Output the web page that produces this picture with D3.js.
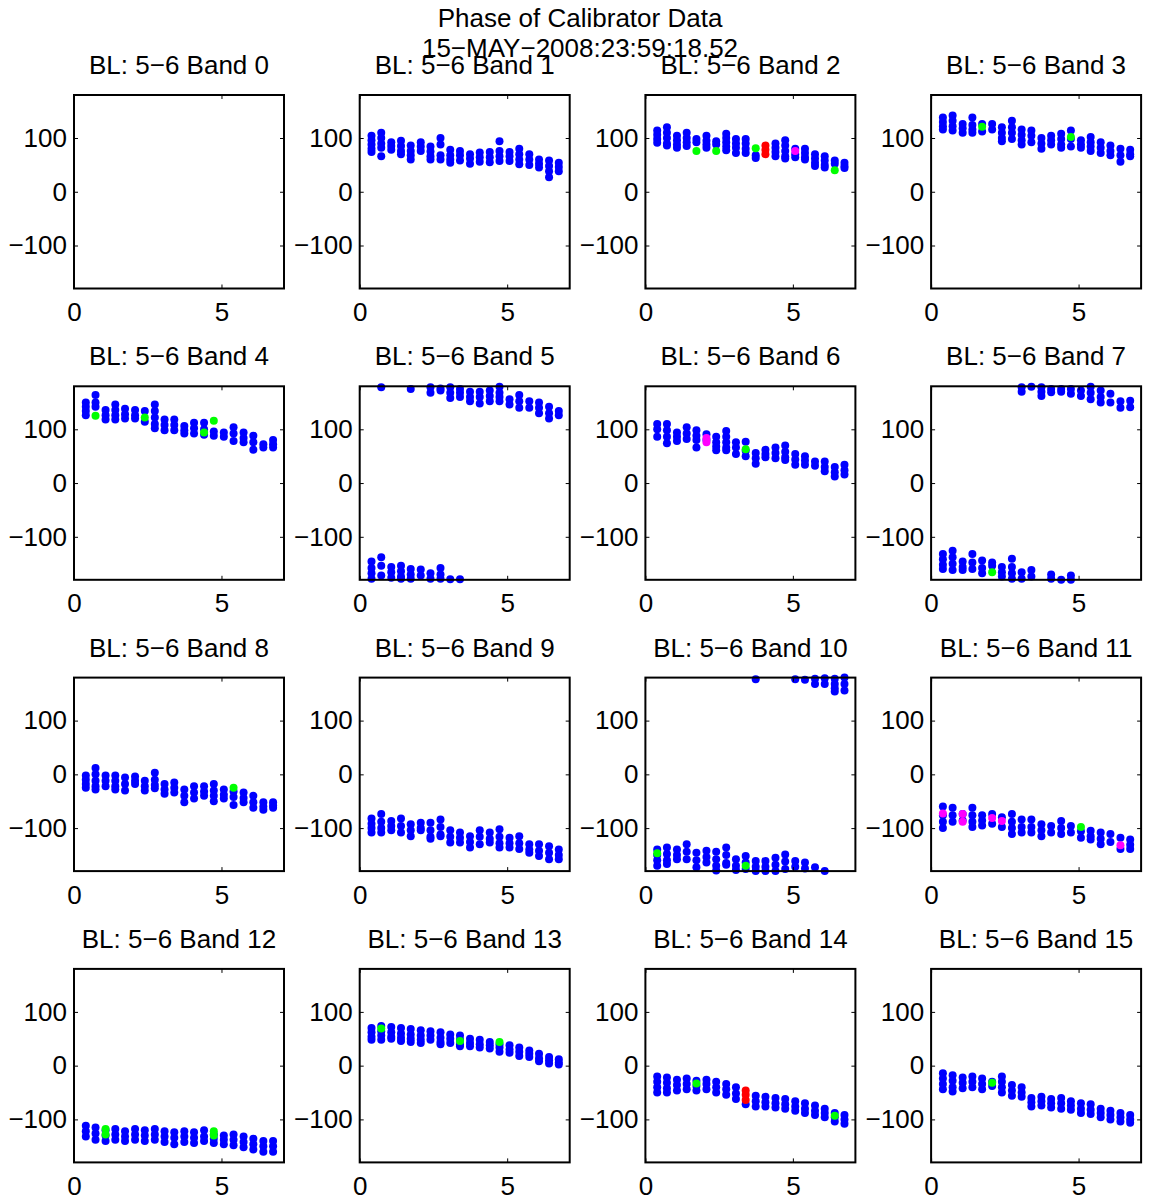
<!DOCTYPE html>
<html><head><meta charset="utf-8">
<script src="https://cdn.jsdelivr.net/npm/d3@7"></script>
<style>body{margin:0;background:#fff} text{font-family:"Liberation Sans",Arial,Helvetica,sans-serif;fill:#000}</style>
</head><body><script>
// ---------- data ----------
const titleLines = ["Phase of Calibrator Data", "15\u2212MAY\u22122008:23:59:18.52"];
const panelLabel = "BL: 5\u22126 Band ";
const xTicks = [0, 5];
const yTicks = [-100, 0, 100];
const xDomain = [0, 7.12];
const yDomain = [-180, 180];
const times = [0.40, 0.73, 1.07, 1.40, 1.73, 2.07, 2.40, 2.74, 3.07, 3.40, 3.74, 4.07, 4.41, 4.74, 5.08, 5.41, 5.75, 6.08, 6.42, 6.75];

const band0 = [];
const band1 = [[104,96,88,80,74],[110,100,90,82,66],[92,85,78],[95,85,76,70],[86,76,68,60],[92,84,76],[84,75,66,60],[100,88,68,60],[78,68,60,54],[76,68,58],[70,62,52],[73,64,56],[74,64,55],[94,76,66,57],[74,66,57],[80,70,60,51],[70,60,50],[60,52,45],[58,48,38,27],[54,46,38]];
const band2 = [[114,106,98,91],[120,110,100,90,86],[104,96,88,82],[110,100,92,85],[98,92],[104,95,88,82],[94,88],[108,100,92,84,77],[98,90,82,72],[98,90,80,72],[68,63],[],[90,82,74,66],[96,86,76,66,62],[80,70,64],[80,72,64,60],[70,62,54,48],[66,58,50,45],[58,52],[54,48,44]];
const band3 = [[138,130,122,116],[142,132,122,114],[126,118,110],[138,124,116,110],[126,112],[126,116],[120,110,100,94],[132,120,110,98],[116,106,96,88],[114,104,92],[100,90,80],[104,96,88],[108,98,88,82],[114,98,84],[96,88,82],[102,92,84,76],[92,82,72],[86,76,68],[80,68,56],[78,70,66]];
const band4 = [[150,142,134,126],[164,150,142],[136,126,118],[146,136,126,118],[138,128,120],[136,126,120],[134,114],[146,134,122,110,102],[118,108,98],[118,108,98],[106,98,92],[112,102,92],[112,100,90],[96,88],[94,86],[104,92,78],[94,84,76],[88,76,62],[72,66],[80,72,66]];
const band5 = [[-146,-158,-168,-178],[178,-138,-154,-172],[-156,-166,-176],[-154,-164,-174,-178],[175,-160,-170,-178],[-161,-172],[178,168,-168,-178],[176,172,-158,-170,-178],[178,168,158,-179],[175,168,160,-179],[170,160,152],[170,160,148],[172,162,152],[179,168,160,152],[156,146],[164,152,140],[152,140],[150,140,130],[142,130,120],[134,126]];
const band6 = [[110,100,86],[110,98,86,74],[94,86,78],[104,92,82],[98,88,80,66],[91,80],[86,76,68,61],[97,86,76,66,61],[76,66,54],[77,60,50],[56,46,36],[62,54,48],[66,56,46],[70,58,48,43],[54,44,34],[50,42,34],[40,32],[40,30,22],[30,20,12],[34,24,16]];
const band7 = [[-132,-142,-152,-160],[-126,-138,-150,-162],[-146,-156,-162],[-132,-148,-160],[-144,-158,-168],[-148,-154],[-156,-166,-174],[-141,-156,-168,-178],[178,170,-166,-178],[179,-162,-174],[178,170,162],[175,169,-170,-178],[175,170,-180],[175,166,-172,-180],[172,162],[179,168,156],[172,160,150],[166,150],[152,140],[153,141]];
const band8 = [[-2,-10,-18,-25],[12,0,-12,-22,-28],[-2,-12,-22],[-2,-12,-22,-28],[-6,-18,-30],[-4,-12,-18],[-12,-22,-30],[3,-10,-20,-26],[-18,-28,-36],[-15,-25,-34],[-28,-40,-52],[-22,-34,-45],[-22,-32,-40],[-18,-30,-40,-50],[-28,-38,-45],[-32,-42,-57],[-34,-44,-52],[-40,-52,-62],[-52,-60,-66],[-52,-58,-62]];
const band9 = [[-82,-92,-100,-108],[-74,-88,-100,-108],[-87,-96,-104],[-82,-96,-108],[-93,-104,-115],[-90,-100,-104],[-90,-104,-116,-120],[-84,-98,-112,-115],[-104,-116,-127],[-108,-118,-127],[-115,-126,-136],[-104,-116,-130],[-108,-120,-127],[-102,-116,-128,-136],[-118,-128,-136],[-115,-128,-139],[-130,-140,-146],[-130,-142,-152],[-134,-146,-158],[-140,-150,-158]];
const band10 = [[-140,-150,-160,-170],[-136,-148,-160,-167],[-140,-150,-158],[-130,-144,-158],[-146,-160,-173],[-142,-154,-164],[-144,-158,-170,-179],[-136,-150,-165,-168],[-158,-170,-178],[-152,-164,-176],[177,-161,-172,-180],[-161,-172,-180],[-155,-168,-180],[-149,-162,-176],[177,-161,-172],[176,-164,-175],[178,168,-173],[179,168,-180],[178,168,160,154],[180,168,156]];
const band11 = [[-60,-76,-88,-100],[-62,-76,-88],[-74,-86],[-62,-76,-88,-98],[-76,-86,-95],[-74,-92],[-80,-98],[-74,-88,-100,-111],[-84,-98,-108],[-84,-98,-108],[-93,-104,-115],[-96,-108],[-87,-100,-111],[-96,-108],[-106,-118],[-105,-115,-121],[-108,-120,-130],[-111,-126],[-118,-139],[-121,-131,-139]];
const band12 = [[-112,-122,-132],[-115,-126,-138],[-120,-130,-140],[-118,-128,-138],[-122,-132,-140],[-118,-128,-138],[-120,-130,-140],[-118,-128,-138],[-122,-132,-142],[-124,-134,-146],[-122,-132,-142],[-124,-134,-144],[-120,-132,-140],[-128,-136,-144],[-130,-138,-146],[-128,-138,-148],[-132,-142,-152],[-136,-146,-156],[-140,-150,-160],[-140,-150,-160]];
const band13 = [[70,62,54,48],[74,64,56,48],[72,62,54,50],[70,60,52,46],[68,58,50,44],[66,56,48,42],[64,56,48],[62,52,44,40],[58,50,42],[56,48,40,36],[50,42,36],[48,40,34],[44,38,32],[40,34,26],[38,30,24],[34,26,18],[28,22,16],[22,14,8],[16,10,4],[12,6,2]];
const band14 = [[-20,-30,-40,-50],[-22,-32,-42,-50],[-26,-36,-46],[-24,-34,-44],[-28,-38,-46],[-26,-34,-44],[-30,-40,-50],[-34,-44,-54],[-40,-52,-62],[-72],[-56,-66,-76],[-58,-68,-76],[-60,-70,-78],[-62,-72,-80],[-66,-76,-84],[-70,-80,-88],[-74,-84,-92],[-80,-88,-96],[-88,-96,-104],[-92,-100,-108]];
const band15 = [[-14,-24,-34,-44],[-18,-28,-40,-48],[-22,-32,-42],[-20,-30,-40],[-24,-34,-44],[-30,-38],[-20,-30,-40,-50],[-36,-46,-56],[-40,-50,-58],[-60,-68,-76],[-58,-66,-74],[-62,-70,-78],[-60,-70,-80],[-66,-74,-82],[-70,-80,-88],[-72,-82,-90],[-80,-88,-96],[-84,-92,-100],[-88,-96,-104],[-92,-100,-106]];

// flagged points: [band, time index, value]
const greenPts = [[2,4,76],[2,6,76],[2,10,81],[2,18,40],[3,4,121],[3,13,102],[4,1,125],[4,6,122],[4,12,94],[4,13,116],[6,9,63],[7,5,-166],[8,15,-25],[10,0,-147],[10,9,-170],[11,14,-98],[12,2,-118],[12,2,-128],[12,13,-122],[12,13,-130],[13,1,69],[13,9,46],[13,13,44],[14,4,-33],[14,18,-93],[15,5,-32]];
const redPts = [[2,11,86],[2,11,78],[2,11,70],[14,9,-46],[14,9,-54],[14,9,-64]];
const magentaPts = [[2,14,76],[6,5,84],[6,5,76],[11,0,-73],[11,2,-74],[11,2,-88],[11,5,-81],[11,6,-87],[11,18,-132]];

const bands = [band0,band1,band2,band3,band4,band5,band6,band7,band8,band9,band10,band11,band12,band13,band14,band15];

// ---------- layout ----------
const W = 1149, H = 1197;
const L0 = 74, CS = 285.7, T0 = 95, RS = 291.3, PW = 210, PH = 193.5;
const R = 4, FS = 26;

const svg = d3.select("body").append("svg").attr("width", W).attr("height", H);
svg.append("rect").attr("width", W).attr("height", H).attr("fill", "#fff");

const x = d3.scaleLinear().domain(xDomain).range([0, PW]);
const y = d3.scaleLinear().domain(yDomain).range([PH, 0]);

const flagSets = [[greenPts, "#00ff00"], [redPts, "#ff0000"], [magentaPts, "#ff00ff"]];

bands.forEach((cols, b) => {
  const r = Math.floor(b / 4), c = b % 4;
  const g = svg.append("g").attr("transform", `translate(${L0 + c * CS},${T0 + r * RS})`);

  const pts = [];
  cols.forEach((vals, i) => vals.forEach(v => pts.push({ t: times[i], v })));
  g.append("g").selectAll("circle").data(pts).join("circle")
    .attr("cx", d => x(d.t)).attr("cy", d => y(d.v)).attr("r", R).attr("fill", "#0000ff");

  flagSets.forEach(([set, col]) => {
    const fp = set.filter(p => p[0] === b).map(p => ({ t: times[p[1]], v: p[2] }));
    g.append("g").selectAll("circle").data(fp).join("circle")
      .attr("cx", d => x(d.t)).attr("cy", d => y(d.v)).attr("r", R).attr("fill", col);
  });

  const styleAxis = sel => {
    sel.select(".domain").remove();
    sel.selectAll("line").attr("stroke", "#000").attr("stroke-width", 1);
    sel.selectAll("text").attr("font-size", FS).attr("font-family", '"Liberation Sans",Arial,sans-serif').attr("fill", "#000");
  };
  g.append("g").call(d3.axisLeft(y).tickValues(yTicks).tickSizeInner(-4).tickSizeOuter(0).tickPadding(7)).call(styleAxis);
  g.append("g").attr("transform", `translate(${PW},0)`).call(d3.axisRight(y).tickValues(yTicks).tickSizeInner(-4).tickSizeOuter(0).tickFormat("")).call(styleAxis);
  g.append("g").attr("transform", `translate(0,${PH})`).call(d3.axisBottom(x).tickValues(xTicks).tickSizeInner(-4).tickSizeOuter(0).tickPadding(14).tickFormat(d3.format("d"))).call(styleAxis);
  g.append("g").call(d3.axisTop(x).tickValues(xTicks).tickSizeInner(-4).tickSizeOuter(0).tickFormat("")).call(styleAxis);

  g.append("rect").attr("width", PW).attr("height", PH).attr("fill", "none").attr("stroke", "#000").attr("stroke-width", 2);

  g.append("text").attr("x", PW / 2).attr("y", -21).attr("text-anchor", "middle").attr("font-size", FS).text(panelLabel + b);
});

svg.selectAll("text.title").data(titleLines).join("text").attr("class", "title")
  .attr("x", 580).attr("y", (d, i) => 27 + i * 30).attr("text-anchor", "middle").attr("font-size", FS).text(d => d);
</script></body></html>
